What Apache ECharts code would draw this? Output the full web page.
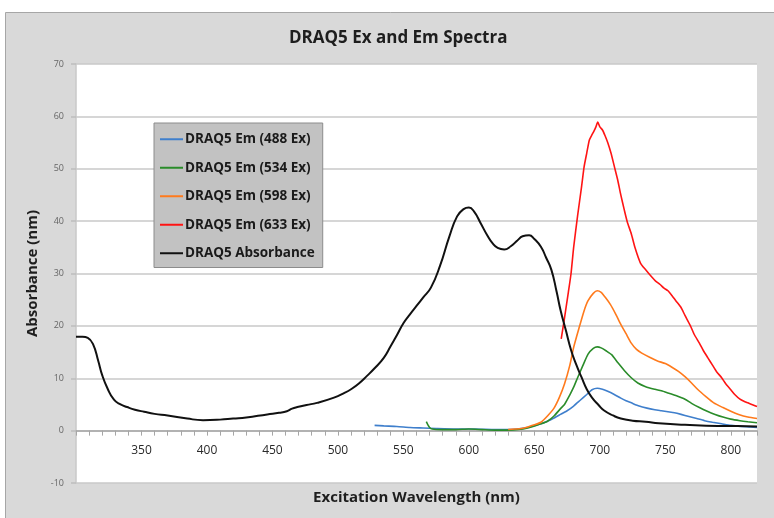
<!DOCTYPE html>
<html>
<head>
<meta charset="utf-8">
<script src="https://cdn.jsdelivr.net/npm/echarts@6/dist/echarts.min.js"></script>
<style>
  html, body { margin: 0; padding: 0; background: #fff; }
  #main { width: 774px; height: 518px; }
</style>
</head>
<body>
<div id="main"></div>
<script>
// 数据：波长(nm) 和 对应数值
var absWl = [300, 305, 309, 313, 317, 320, 324, 329, 334, 339, 345, 352, 360, 370, 385, 397, 410, 420, 430, 446, 455, 461, 465, 469, 476, 484, 497, 505, 510, 516, 522, 528, 535, 540, 545, 550, 555, 560, 565, 571, 578, 585, 591, 596, 600, 604, 609, 614, 618, 622, 627, 632, 637, 641, 646, 650, 655, 659, 663, 667, 670, 674, 678, 682, 686, 690, 694, 699, 703, 710, 716, 725, 735, 745, 765, 790, 805, 820];
var absVal = [17.9, 17.9, 17.7, 16.5, 13.3, 10.6, 8.1, 5.9, 5.0, 4.5, 4.0, 3.6, 3.2, 2.9, 2.3, 2.0, 2.1, 2.3, 2.5, 3.1, 3.4, 3.7, 4.2, 4.5, 4.9, 5.3, 6.3, 7.2, 7.9, 9.0, 10.4, 11.9, 13.9, 16.0, 18.2, 20.5, 22.2, 23.8, 25.4, 27.3, 31.5, 37.0, 40.9, 42.3, 42.6, 41.8, 39.6, 37.3, 35.8, 34.9, 34.6, 35.2, 36.3, 37.1, 37.3, 36.6, 35.1, 33.0, 30.7, 26.5, 23.0, 19.2, 15.4, 12.6, 10.2, 7.9, 6.3, 4.9, 3.9, 2.9, 2.3, 1.9, 1.7, 1.4, 1.1, 0.9, 0.9, 0.8];

var em488Wl = [528, 535, 545, 555, 565, 575, 590, 605, 620, 630, 640, 648, 655, 660, 665, 670, 675, 680, 685, 690, 694, 698, 702, 706, 711, 716, 720, 724, 730, 736, 742, 747, 752, 757, 762, 768, 774, 780, 786, 793, 800, 808, 815, 820];
var em488Val = [1.0, 0.9, 0.8, 0.6, 0.5, 0.4, 0.3, 0.3, 0.2, 0.2, 0.4, 0.8, 1.3, 1.8, 2.4, 3.1, 3.8, 4.7, 5.8, 6.9, 7.8, 8.1, 7.9, 7.5, 6.9, 6.2, 5.7, 5.3, 4.7, 4.3, 4.0, 3.8, 3.6, 3.4, 3.1, 2.7, 2.3, 1.9, 1.6, 1.3, 1.0, 0.8, 0.7, 0.6];

var em534Wl = [567.5, 568.5, 570, 572, 580, 590, 600, 610, 620, 630, 638, 645, 650, 655, 660, 665, 670, 673, 677, 680, 683, 687, 691, 695, 698, 701, 705, 709, 714, 719, 724, 729, 735, 742, 747, 752, 758, 765, 770, 776, 782, 788, 794, 800, 807, 813, 820];
var em534Val = [1.7, 1.2, 0.6, 0.3, 0.2, 0.2, 0.3, 0.2, 0.1, 0.1, 0.2, 0.5, 0.9, 1.3, 1.8, 2.8, 4.2, 5.0, 6.8, 8.3, 10.1, 12.4, 14.6, 15.7, 16.0, 15.8, 15.2, 14.5, 12.9, 11.4, 10.1, 9.1, 8.4, 7.9, 7.6, 7.2, 6.7, 6.0, 5.2, 4.4, 3.7, 3.1, 2.6, 2.2, 1.9, 1.7, 1.5];

var em598Wl = [630, 635, 640, 645, 650, 655, 660, 665, 669, 673, 677, 680, 684, 688, 691, 695, 698, 701, 704, 708, 712, 716, 720, 724, 728, 732, 738, 744, 750, 755, 760, 765, 770, 775, 781, 787, 794, 800, 806, 813, 820];
var em598Val = [0.2, 0.3, 0.4, 0.7, 1.1, 1.6, 2.8, 4.3, 6.3, 8.9, 12.4, 15.9, 19.5, 22.9, 24.8, 26.2, 26.7, 26.4, 25.5, 24.1, 22.3, 20.3, 18.5, 16.7, 15.5, 14.8, 14.0, 13.3, 12.8, 12.1, 11.3, 10.3, 9.1, 7.8, 6.5, 5.3, 4.4, 3.7, 3.1, 2.6, 2.3];

var em633Wl = [670.5, 673, 676, 678, 680, 683, 686, 688, 690, 692, 694, 695.5, 697, 698.4, 700, 702, 704, 706, 708.5, 711, 713.6, 716, 718.7, 721, 724, 727, 731, 735, 738, 742, 746, 749, 752, 755, 758, 762, 765, 769, 772, 776, 779, 782.5, 786, 789, 793, 796, 800, 803, 807, 810, 813, 817, 820];
var em633Val = [17.5, 21.5, 26.5, 30.0, 35.0, 41.0, 46.5, 50.4, 53.0, 55.5, 56.5, 57.2, 58.0, 58.9, 58.0, 57.4, 56.3, 55.0, 53.0, 50.5, 47.9, 45.0, 42.1, 39.8, 37.6, 34.8, 32.0, 30.7, 29.8, 28.7, 27.9, 27.2, 26.7, 25.8, 24.8, 23.5, 22.0, 20.1, 18.4, 16.7, 15.3, 13.9, 12.5, 11.3, 10.1, 9.0, 7.8, 6.9, 6.0, 5.6, 5.3, 4.9, 4.6];

var seriesNames = ['DRAQ5 Em (488 Ex)', 'DRAQ5 Em (534 Ex)', 'DRAQ5 Em (598 Ex)', 'DRAQ5 Em (633 Ex)', 'DRAQ5 Absorbance'];
var seriesColors = ['#3f7fcc', '#2a8c2a', '#ff7a1c', '#ff1414', '#111111'];

function zip(xs, ys) {
  var out = [];
  for (var i = 0; i < xs.length; i++) out.push([xs[i], ys[i]]);
  return out;
}

var allData = [
  zip(em488Wl, em488Val),
  zip(em534Wl, em534Val),
  zip(em598Wl, em598Val),
  zip(em633Wl, em633Val),
  zip(absWl, absVal)
];

var font = '"Open Sans", sans-serif';
var myChart = echarts.init(document.getElementById('main'));

var series = [];
for (var i = 0; i < seriesNames.length; i++) {
  series.push({
    name: seriesNames[i],
    type: 'line',
    data: allData[i],
    symbol: 'none',
    smooth: i === 4 ? 0.5 : 0.2,
    color: seriesColors[i],
    lineStyle: { width: i === 4 ? 2 : 1.6, color: seriesColors[i] },
    z: i === 4 ? 3 : 2
  });
}

var option = {
  animation: false,
  backgroundColor: '#fff',
  graphic: [{
    type: 'rect',
    z: -100,
    shape: { x: 5.5, y: 12.5, width: 780, height: 520 },
    style: { fill: '#d9d9d9', stroke: '#a6a6a6', lineWidth: 1 }
  }],
  title: {
    text: 'DRAQ5 Ex and Em Spectra',
    left: 284,
    top: 25,
    textStyle: { fontFamily: font, fontSize: 17, fontWeight: 'bold', color: '#1e1e1e' }
  },
  legend: {
    orient: 'vertical',
    left: 154,
    top: 123,
    data: seriesNames,
    icon: 'rect',
    itemWidth: 23,
    itemHeight: 2,
    itemGap: 12,
    padding: [8, 8, 6, 6],
    backgroundColor: '#c2c2c2',
    borderColor: '#8c8c8c',
    borderWidth: 1,
    textStyle: { fontFamily: font, fontSize: 13.5, lineHeight: 16.5, fontWeight: 'bold', color: '#1a1a1a', padding: [0, 0, 0, -3] }
  },
  grid: {
    left: 76,
    right: 17,
    top: 64,
    bottom: 35,
    outerBoundsMode: 'none',
    containLabel: false,
    show: true,
    backgroundColor: '#fff',
    borderWidth: 0
  },
  xAxis: {
    type: 'value',
    min: 300,
    max: 820,
    interval: 10,
    name: 'Excitation Wavelength (nm)',
    nameLocation: 'middle',
    nameGap: 7,
    nameTextStyle: { fontFamily: font, fontSize: 15, fontWeight: 'bold', color: '#1e1e1e' },
    axisLine: { onZero: true, lineStyle: { color: '#a6a6a6', width: 1.5 } },
    axisTick: { show: true, length: 5, lineStyle: { color: '#a6a6a6' } },
    axisLabel: {
      margin: -38,
      fontFamily: font,
      fontSize: 12,
      color: '#2a2a2a',
      formatter: function (v) {
        return (v % 50 === 0 && v !== 300) ? String(v) : '';
      }
    },
    splitLine: { show: false }
  },
  yAxis: {
    type: 'value',
    min: -10,
    max: 70,
    interval: 10,
    name: 'Absorbance (nm)',
    nameLocation: 'middle',
    nameGap: 33,
    nameTextStyle: { fontFamily: font, fontSize: 15, fontWeight: 'bold', color: '#1e1e1e' },
    axisLine: { show: true, lineStyle: { color: '#c8c8c8', width: 1.5 } },
    axisTick: { show: true, length: 5, lineStyle: { color: '#bdbdbd', width: 1.5 } },
    axisLabel: { margin: 12, fontFamily: font, fontSize: 9, color: '#666' },
    splitLine: { show: true, lineStyle: { color: '#c8c8c8', width: 1.5 } }
  },
  series: series
};

option && myChart.setOption(option);
</script>
</body>
</html>
